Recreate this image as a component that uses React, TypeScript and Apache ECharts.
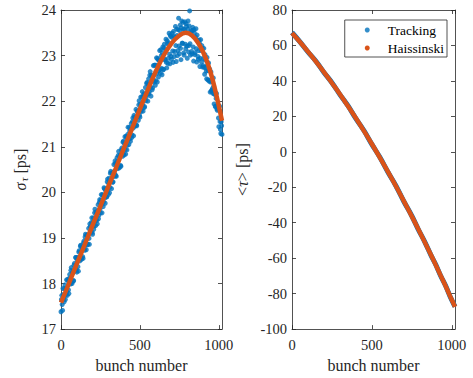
import React, { useEffect, useRef } from "react";
import * as echarts from "echarts";

// Haissinski (reference) curve samples
const hBunch = [0, 50, 100, 150, 200, 250, 300, 350, 400, 450, 500, 550, 600, 650, 700, 750, 790, 830, 870, 900, 930, 960, 990, 1020];
const hSigma = [17.58, 18.0, 18.43, 18.85, 19.28, 19.7, 20.13, 20.55, 20.98, 21.4, 21.83, 22.25, 22.65, 23.0, 23.27, 23.44, 23.5, 23.44, 23.27, 23.08, 22.82, 22.48, 22.05, 21.57];
const hTau = [67.0, 61.9, 56.5, 50.9, 45.0, 38.8, 32.5, 25.8, 18.9, 11.8, 4.4, -3.3, -11.2, -19.3, -27.8, -36.4, -43.5, -50.8, -58.2, -63.9, -69.7, -75.5, -81.5, -87.5];
const trackTau = [67.3, 62.0, 56.3, 51.1, 44.8, 39.0, 32.3, 26.0, 18.7, 12.0, 4.2, -3.1, -11.4, -19.1, -28.0, -36.2, -43.7, -50.6, -58.4, -63.7, -69.9, -75.3, -81.7, -87.3];

// Tracking bunch sigma, set A: bunches 0, 5, 10, ... 1020
const trackSigmaA = [
  17.38, 17.74, 17.41, 17.76, 17.60, 17.97, 17.75, 18.08, 17.74, 18.06,
  17.78, 18.20, 17.99, 18.35, 18.00, 18.27, 18.06, 18.44, 18.28, 18.57,
  18.25, 18.57, 18.27, 18.72, 18.50, 18.84, 18.53, 18.77, 18.55, 18.93,
  18.73, 19.08, 18.74, 19.06, 18.86, 19.21, 18.86, 19.25, 19.14, 19.44,
  19.08, 19.44, 19.26, 19.63, 19.27, 19.55, 19.31, 19.73, 19.50, 19.84,
  19.55, 19.95, 19.55, 19.93, 19.79, 20.08, 19.76, 20.05, 19.90, 20.29,
  19.95, 20.31, 20.11, 20.46, 20.08, 20.42, 20.23, 20.61, 20.41, 20.63,
  20.35, 20.76, 20.52, 20.90, 20.54, 20.82, 20.57, 20.97, 20.79, 21.12,
  20.82, 21.22, 20.84, 21.21, 21.03, 21.43, 21.05, 21.34, 21.12, 21.51,
  21.26, 21.63, 21.24, 21.65, 21.47, 21.82, 21.46, 21.78, 21.58, 22.01,
  21.65, 22.09, 21.81, 22.21, 21.78, 22.16, 21.88, 22.30, 22.09, 22.41,
  22.00, 22.49, 22.21, 22.65, 22.11, 22.55, 22.29, 22.78, 22.42, 22.79,
  22.45, 22.95, 22.42, 22.91, 22.67, 23.11, 22.61, 23.00, 22.58, 23.19,
  22.70, 23.25, 22.90, 23.36, 22.73, 23.26, 22.94, 23.49, 22.82, 23.42,
  22.92, 23.49, 22.85, 23.42, 23.09, 23.64, 22.87, 23.44, 23.11, 23.82,
  23.04, 23.67, 22.91, 23.76, 23.27, 23.58, 23.01, 23.74,
  23.15, 23.64, 22.94, 23.76, 23.22, 23.98, 23.01, 23.55,
  23.04, 23.62, 22.88, 23.50, 23.06, 23.59, 22.86, 23.34,
  22.92, 23.34, 22.76, 23.35, 22.86, 23.16,
  22.78, 23.16, 22.59, 22.90, 22.66, 22.96,
  22.47, 22.84, 22.46, 22.20, 22.64, 22.24,
  22.28, 22.51, 21.94, 22.16, 21.89, 22.17,
  21.80, 21.92, 21.44, 21.89, 21.38, 21.55, 21.27,
];
// Tracking bunch sigma, set B: bunches 2.5, 7.5, ... 1017.5
const trackSigmaB = [
  17.65, 17.54, 17.89, 17.68, 17.89, 17.65, 17.88, 17.82, 18.09, 17.86,
  18.12, 18.02, 18.29, 18.03, 18.23, 18.06, 18.40, 18.30, 18.57, 18.31,
  18.51, 18.37, 18.69, 18.54, 18.82, 18.56, 18.79, 18.59, 18.89, 18.78,
  19.02, 18.86, 19.06, 18.85, 19.07, 18.99, 19.31, 19.13, 19.34, 19.12,
  19.34, 19.19, 19.55, 19.37, 19.57, 19.39, 19.58, 19.42, 19.78, 19.64,
  19.83, 19.73, 19.95, 19.69, 20.10, 19.88, 20.04, 19.90, 20.23, 20.03,
  20.20, 19.99, 20.42, 20.24, 20.42, 20.22, 20.45, 20.35, 20.69, 20.37,
  20.66, 20.56, 20.81, 20.56, 20.79, 20.59, 20.93, 20.85, 21.10, 20.84,
  21.06, 20.94, 21.23, 20.93, 21.27, 21.16, 21.42, 21.18, 21.38, 21.20,
  21.55, 21.41, 21.69, 21.45, 21.64, 21.48, 21.78, 21.67, 21.92, 21.69,
  21.93, 21.77, 22.09, 21.92, 22.12, 21.86, 22.15, 22.01, 22.39, 22.15,
  22.37, 22.16, 22.57, 22.31, 22.57, 22.25, 22.56, 22.45, 22.79, 22.35,
  22.79, 22.61, 22.94, 22.53, 22.89, 22.70, 23.13, 22.72, 23.05, 22.69,
  23.17, 22.92, 23.12, 22.85, 23.33, 22.83, 23.28, 23.03, 23.45, 22.98,
  23.40, 23.10, 23.53, 22.98, 23.40, 23.22, 23.58, 23.00, 23.57, 23.21,
  23.55, 23.16, 23.61, 23.27, 23.73, 23.06, 23.57, 23.25,
  23.70, 23.21, 23.58, 23.08, 23.65, 23.26, 23.50, 23.09,
  23.55, 23.19, 23.57, 23.02, 23.41, 23.15, 23.45, 22.98,
  23.11, 23.27, 22.94, 23.11, 23.22, 22.75,
  22.94, 22.74, 23.02, 22.73, 22.49, 22.79,
  22.67, 22.44, 22.70, 22.42, 22.22, 22.43,
  22.17, 22.33, 22.15, 21.88, 22.06, 21.83,
  21.89, 21.63, 21.80, 21.55, 21.29, 21.46,
];
const trackStep = 5;

const xTicks = { min: 0, max: 1020, interval: 500 };
const sigmaTicks = { min: 17, max: 24, interval: 1 };
const tauTicks = { min: -100, max: 80, interval: 20 };

const BLUE = "#0072BD";
const ORANGE = "#D95319";
const AX = "#262626";
const FONT = "'Liberation Serif', 'Times New Roman', serif";

export default function App() {
  const ref = useRef<HTMLDivElement>(null);
  useEffect(() => {
    if (!ref.current) return;
    const chart = echarts.init(ref.current, undefined, { renderer: "svg" });

    const axisLine = { show: true, onZero: false, lineStyle: { color: AX, width: 0.8 } };
    const tick = { show: true, inside: true, length: 4, lineStyle: { color: AX, width: 0.8 } };
    const label = { fontFamily: FONT, fontSize: 14.5, color: AX, formatter: (v: number) => String(v) };

    const xAx = (grid: number, top: boolean) => ({
      type: "value",
      gridIndex: grid,
      position: top ? "top" : "bottom",
      ...xTicks,
      axisLine,
      axisTick: tick,
      splitLine: { show: false },
      axisLabel: top ? { show: false } : { ...label, margin: 8, showMaxLabel: false },
      name: top ? "" : "bunch number",
      nameLocation: "middle",
      nameGap: 27,
      nameTextStyle: { fontFamily: FONT, fontSize: 16, color: AX },
    });
    const yAx = (grid: number, right: boolean, ticks: any, name: any, nameGap: number) => ({
      type: "value",
      gridIndex: grid,
      position: right ? "right" : "left",
      ...ticks,
      axisLine,
      axisTick: tick,
      splitLine: { show: false },
      axisLabel: right ? { show: false } : { ...label, margin: 5 },
      name: right ? "" : name,
      nameLocation: "middle",
      nameGap,
      nameTextStyle: {
        fontFamily: FONT,
        fontSize: 16,
        color: AX,
        rich: {
          s: { fontFamily: FONT, fontSize: 16, color: AX },
          i: { fontFamily: FONT, fontSize: 16, color: AX, fontStyle: "italic" },
          sub: { fontFamily: FONT, fontSize: 11, color: AX, fontStyle: "italic", padding: [7, 0, 0, 1] },
        },
      },
    });

    const trackData = [
      ...trackSigmaA.map((v, i) => [i * trackStep, v]),
      ...trackSigmaB.map((v, i) => [i * trackStep + trackStep / 2, v]),
    ];

    chart.setOption({
      animation: false,
      backgroundColor: "#fff",
      grid: [
        { left: 61, top: 10, width: 161, height: 320 },
        { left: 292, top: 10, width: 163, height: 320 },
      ],
      xAxis: [xAx(0, false), xAx(0, true), xAx(1, false), xAx(1, true)],
      yAxis: [
        yAx(0, false, sigmaTicks, "{i|σ}{sub|τ}{s| [ps]}", 32),
        yAx(0, true, sigmaTicks, "", 0),
        yAx(1, false, tauTicks, "{s|<}{i|τ}{s|> [ps]}", 42),
        yAx(1, true, tauTicks, "", 0),
      ],
      legend: {
        orient: "vertical",
        right: 26,
        top: 20,
        selectedMode: false,
        backgroundColor: "#fff",
        borderColor: AX,
        borderWidth: 0.8,
        padding: [3, 3, 2, 20],
        itemGap: 4,
        itemWidth: 5,
        itemHeight: 5,
        textStyle: { fontFamily: FONT, fontSize: 13.5, color: "#000", padding: [0, 0, 0, 13], lineHeight: 14 },
        data: [
          { name: "Tracking", icon: "circle" },
          { name: "Haissinski", icon: "circle" },
        ],
      },
      series: [
        {
          name: "Tracking",
          type: "scatter",
          xAxisIndex: 0,
          yAxisIndex: 0,
          data: trackData,
          symbolSize: 5,
          itemStyle: { color: BLUE },
          z: 2,
        },
        {
          name: "Haissinski",
          type: "line",
          xAxisIndex: 0,
          yAxisIndex: 0,
          data: hBunch.map((b, i) => [b, hSigma[i]]),
          smooth: 0.4,
          showSymbol: false,
          itemStyle: { color: ORANGE },
          lineStyle: { color: ORANGE, width: 4.5 },
          z: 3,
        },
        {
          name: "Tracking",
          type: "line",
          xAxisIndex: 2,
          yAxisIndex: 2,
          data: hBunch.map((b, i) => [b, trackTau[i]]),
          smooth: 0.4,
          showSymbol: false,
          itemStyle: { color: BLUE },
          lineStyle: { color: BLUE, width: 5 },
          z: 2,
        },
        {
          name: "Haissinski",
          type: "line",
          xAxisIndex: 2,
          yAxisIndex: 2,
          data: hBunch.map((b, i) => [b, hTau[i]]),
          smooth: 0.4,
          showSymbol: false,
          itemStyle: { color: ORANGE },
          lineStyle: { color: ORANGE, width: 4.5 },
          z: 3,
        },
      ],
    });
    return () => chart.dispose();
  }, []);
  return <div ref={ref} style={{ position: "absolute", left: 0, top: 0, width: 473, height: 378 }} />;
}
